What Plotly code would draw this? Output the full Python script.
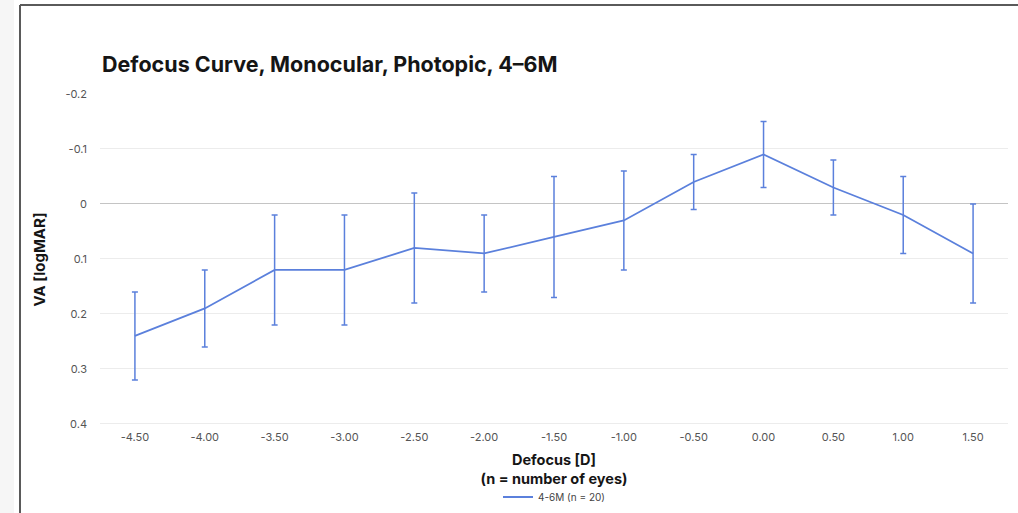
import plotly.graph_objects as go

defocus = ["-4.50", "-4.00", "-3.50", "-3.00", "-2.50", "-2.00", "-1.50",
           "-1.00", "-0.50", "0.00", "0.50", "1.00", "1.50"]
va_mean = [0.24, 0.19, 0.12, 0.12, 0.08, 0.09, 0.06, 0.03, -0.04, -0.09, -0.03, 0.02, 0.09]
va_err = [0.08, 0.07, 0.10, 0.10, 0.10, 0.07, 0.11, 0.09, 0.05, 0.06, 0.05, 0.07, 0.09]
y_ticks = [-0.2, -0.1, 0, 0.1, 0.2, 0.3, 0.4]
y_tick_text = ["-0.2", "-0.1", "0", "0.1", "0.2", "0.3", "0.4"]

W, H = 1018, 513
L, R, T, B = 100, 10, 94, 88
LINE = "#5b80dc"
FONT = "Inter, Roboto, sans-serif"

fig = go.Figure()
fig.add_trace(go.Scatter(
    x=defocus, y=va_mean, mode="lines", name="4-6M (n = 20)",
    line=dict(color=LINE, width=1.8),
    error_y=dict(type="data", array=va_err, visible=True, color=LINE,
                 thickness=1.5, width=3),
))

def px_x(px):
    return (px - L) / (W - L - R)

def px_y(py):
    return (H - B - py) / (H - T - B)

shapes = [
    dict(type="rect", xref="paper", yref="paper", x0=px_x(0), x1=px_x(14),
         y0=px_y(H), y1=px_y(0), fillcolor="#f6f6f6", line=dict(width=0), layer="below"),
    dict(type="line", xref="paper", yref="paper", x0=px_x(20), x1=px_x(W),
         y0=px_y(5), y1=px_y(5), line=dict(color="#5a5a5a", width=2)),
    dict(type="line", xref="paper", yref="paper", x0=px_x(20), x1=px_x(20),
         y0=px_y(5), y1=px_y(H), line=dict(color="#5a5a5a", width=2)),
]

fig.update_layout(
    width=W, height=H,
    margin=dict(l=L, r=R, t=T, b=B, autoexpand=False),
    paper_bgcolor="white", plot_bgcolor="white",
    font=dict(family=FONT, color="#555555", size=11),
    title=dict(text="<b>Defocus Curve, Monocular, Photopic, 4–6M</b>",
               x=102 / W, xanchor="left",
               y=1 - 64 / H, yanchor="middle",
               font=dict(family=FONT, size=21.5, color="#151515")),
    xaxis=dict(type="category", range=[-0.5, 12.5], showgrid=False, zeroline=False,
               showline=False, ticks="", ticklabelstandoff=4,
               tickfont=dict(size=11, color="#555555"),
               title=dict(text="<b>Defocus [D]<br>(n = number of eyes)</b>",
                          font=dict(family=FONT, size=14.5, color="#151515"), standoff=11)),
    yaxis=dict(range=[0.402, -0.2], tickvals=y_ticks, ticktext=y_tick_text,
               showgrid=True, gridcolor="#ececec", gridwidth=1,
               zeroline=True, zerolinecolor="#c4c4c4", zerolinewidth=1.2,
               showline=False, ticks="", ticklabelstandoff=12,
               tickfont=dict(size=11, color="#555555"),
               title=dict(text="<b>VA [logMAR]</b>",
                          font=dict(family=FONT, size=15, color="#151515"), standoff=16)),
    showlegend=True,
    legend=dict(orientation="h", x=0.5, xanchor="center", y=px_y(497), yanchor="middle",
                font=dict(size=10, color="#444444"), itemwidth=30),
    shapes=shapes,
)

fig.write_html("out.html", config={"displayModeBar": False},
               post_script="document.body.style.margin='0';document.body.style.overflow='hidden';")
